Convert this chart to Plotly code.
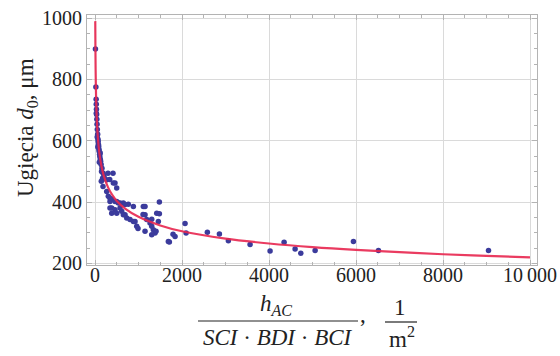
import plotly.graph_objects as go

# ---- data ----
x_points = [10, 20, 26, 29, 33, 37, 42, 47, 53, 61, 69, 73, 79, 84, 91, 96, 105, 111, 121, 129,
            141, 160, 187, 207, 30, 50, 65, 100, 120, 150, 175, 145, 184,
            299, 414, 338, 460, 499, 269, 306, 384, 460, 536, 651, 766, 1111, 384, 191, 269,
            345, 575, 690, 1150, 345, 460, 384, 499, 614, 690, 729, 805, 920, 959, 1150, 1189,
            1265, 1419, 1456, 1341, 1380, 1480, 1480, 1304, 1403, 1710, 1840, 2070, 2093,
            2583, 2860, 3066, 3565, 4025, 4347, 4600, 4731, 5060, 5941, 6516, 9046,
            989, 1304, 1150, 421, 345, 499, 575, 882, 651, 882, 1104, 1304, 1686, 1794]
y_points = [899, 775, 735, 719, 703, 686, 670, 654, 637, 621, 605, 598, 588, 582, 572, 566, 556, 549, 540, 533,
            523, 510, 494, 484, 690, 612, 580, 530, 560, 500, 478, 468, 451,
            494, 494, 474, 462, 446, 435, 419, 409, 402, 397, 397, 393, 386, 381, 479, 473,
            413, 397, 392, 386, 381, 375, 364, 364, 370, 359, 348, 343, 337, 321, 359, 343,
            332, 364, 337, 310, 299, 400, 362, 321, 305, 270, 288, 330, 299,
            302, 296, 274, 262, 241, 269, 247, 233, 242, 272, 242, 242,
            314, 294, 305, 462, 402, 402, 381, 386, 359, 337, 360, 344, 272, 295]

fit_x = [6, 10, 20, 40, 70, 100, 150, 200, 300, 400, 500, 700, 1000, 1500, 2000, 3000,
         4000, 5000, 6000, 7000, 8000, 9000, 10000]
fit_y = [990, 895, 777, 675, 602, 560, 516, 487, 448, 423, 404, 378, 352, 324, 305, 281,
         265, 253, 244, 237, 230, 225, 220]

x_tickvals = [0, 2000, 4000, 6000, 8000, 10000]
x_ticktext = ["0", "2000", "4000", "6000", "8000", "10\u2009000"]
y_tickvals = [200, 400, 600, 800, 1000]
y_ticktext = ["200", "400", "600", "800", "1000"]

SERIF = "Liberation Serif, Times New Roman, serif"
FRAME = "#b3b3b3"
GRID = "#dadada"

fig = go.Figure()
fig.add_trace(go.Scatter(x=x_points, y=y_points, mode="markers", hoverinfo="skip",
                         marker=dict(size=5.5, color="#3b3b9c"), showlegend=False))
fig.add_trace(go.Scatter(x=fit_x, y=fit_y, mode="lines", line_shape="spline", hoverinfo="skip",
                         line=dict(color="#e8264f", width=2.2), opacity=0.9, showlegend=False))

axis_common = dict(showline=True, linecolor=FRAME, linewidth=1, mirror="ticks",
                   ticks="inside", ticklen=5, tickcolor=FRAME, showgrid=True,
                   gridcolor=GRID, gridwidth=1, zeroline=False, automargin=False,
                   tickfont=dict(family=SERIF, size=20, color="#222222"))

fig.update_xaxes(range=[-184, 10161], tickvals=x_tickvals, ticktext=x_ticktext,
                 ticklabelstandoff=-8,
                 minor=dict(tick0=0, dtick=500, ticks="inside", ticklen=3, tickcolor=FRAME, showgrid=False),
                 **axis_common)
fig.update_yaxes(range=[195, 1010], tickvals=y_tickvals, ticktext=y_ticktext,
                 minor=dict(tick0=0, dtick=50, ticks="inside", ticklen=3, tickcolor=FRAME, showgrid=False),
                 **axis_common)

L, R, T, B = 87, 23, 15, 91
W, H = 560, 356
pw, ph = W - L - R, H - T - B

def px(xp):
    return (xp - L) / pw

def py(yp):
    return (H - B - yp) / ph

font_t = dict(family=SERIF, size=23, color="#222222")
font_f = dict(family=SERIF, size=23, color="#222222")
ann = []
ann.append(dict(text="Ugięcia <i>d</i><sub>0</sub>, μm", textangle=-90, x=px(27), y=py(128),
                xref="paper", yref="paper", showarrow=False, xanchor="center", yanchor="middle",
                font=font_t))
ann.append(dict(text="<i>h</i><sub><i>AC</i></sub>", x=px(276), y=py(305), xref="paper", yref="paper",
                showarrow=False, xanchor="center", yanchor="middle", font=font_f))
ann.append(dict(text="<i>SCI</i> · <i>BDI</i> · <i>BCI</i>", x=px(278), y=py(337), xref="paper",
                yref="paper", showarrow=False, xanchor="center", yanchor="middle", font=font_f))
ann.append(dict(text=",", x=px(363), y=py(314), xref="paper", yref="paper",
                showarrow=False, xanchor="center", yanchor="middle", font=font_f))
ann.append(dict(text="1", x=px(400), y=py(307), xref="paper", yref="paper",
                showarrow=False, xanchor="center", yanchor="middle", font=font_f))
ann.append(dict(text="m<sup>2</sup>", x=px(402), y=py(337), xref="paper", yref="paper",
                showarrow=False, xanchor="center", yanchor="middle", font=font_f))

shapes = [
    dict(type="line", xref="paper", yref="paper", x0=px(198), x1=px(358), y0=py(321), y1=py(321),
         line=dict(color="#222222", width=1.2)),
    dict(type="line", xref="paper", yref="paper", x0=px(385), x1=px(417), y0=py(322), y1=py(322),
         line=dict(color="#222222", width=1.2)),
]

fig.update_layout(template="none", width=W, height=H, margin=dict(l=L, r=R, t=T, b=B),
                  paper_bgcolor="white", plot_bgcolor="white", hovermode=False,
                  annotations=ann, shapes=shapes)

fig.write_html("out.html", config={"displayModeBar": False},
               post_script="document.body.style.margin='0px';document.body.style.overflow='hidden';")
